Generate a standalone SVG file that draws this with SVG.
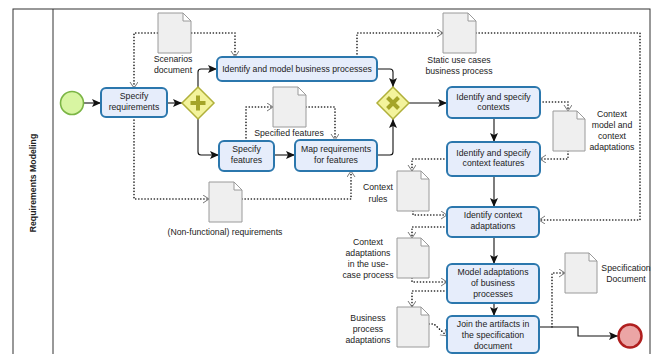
<svg xmlns="http://www.w3.org/2000/svg" width="655" height="354" viewBox="0 0 655 354">
<style>
text{font-family:"Liberation Sans",Arial,sans-serif;font-size:8.7px;fill:#222;text-anchor:middle}
.task{fill:#e6edfb;stroke:#2b77ad;stroke-width:2}
.doc{fill:#efefef;stroke:#9a9a9a;stroke-width:1}
.seq{fill:none;stroke:#111;stroke-width:1.1}
.assoc{fill:none;stroke:#1a1a1a;stroke-width:1.6;stroke-dasharray:0.1 3;stroke-linecap:round}
.gw{fill:#f3f39c;stroke:#b0b03a;stroke-width:1.5}
.mark{fill:none;stroke:#a4a428;stroke-width:4}
</style>
<defs>
<marker id="arr" markerUnits="userSpaceOnUse" markerWidth="10" markerHeight="10" refX="9" refY="4" orient="auto">
<path d="M0,0 L9,4 L0,8 L2,4 z" fill="#111"/>
</marker>
<marker id="oarr" markerUnits="userSpaceOnUse" markerWidth="10" markerHeight="10" refX="6" refY="4" orient="auto">
<path d="M0,0 L6,4 L0,8" fill="none" stroke="#777" stroke-width="1"/>
</marker>
</defs>

<g id="pool">
<rect x="13" y="9" width="637" height="360" fill="#fff" stroke="#333" stroke-width="1"/>
<line x1="53" y1="9" x2="53" y2="354" stroke="#333" stroke-width="1"/>
<text x="0" y="0" transform="translate(36,183) rotate(-90)" style="font-weight:bold">Requirements Modeling</text>
</g>

<g id="connectors">
<path class="seq" d="M83 103 H101" marker-end="url(#arr)"/>
<path class="seq" d="M167 103 H182" marker-end="url(#arr)"/>
<path class="seq" d="M198 87 V72 Q198 69 201 69 H217" marker-end="url(#arr)"/>
<path class="seq" d="M198 119 V152 Q198 155 201 155 H219" marker-end="url(#arr)"/>
<path class="seq" d="M274 155 H295" marker-end="url(#arr)"/>
<path class="seq" d="M377 69 H390 Q393 69 393 72 V87" marker-end="url(#arr)"/>
<path class="seq" d="M377 155 H390 Q393 155 393 152 V119" marker-end="url(#arr)"/>
<path class="seq" d="M409 103 H447" marker-end="url(#arr)"/>
<path class="seq" d="M494 118 V142" marker-end="url(#arr)"/>
<path class="seq" d="M494 176 V207" marker-end="url(#arr)"/>
<path class="seq" d="M494 237 V264" marker-end="url(#arr)"/>
<path class="seq" d="M494 303 V316" marker-end="url(#arr)"/>
<path class="seq" d="M539 327 H578 V336 H618" marker-end="url(#arr)"/>

<path class="assoc" d="M173 33 H134 V88" marker-end="url(#oarr)"/>
<path class="assoc" d="M173 33 H235 V57" marker-end="url(#oarr)"/>
<path class="assoc" d="M134 117 V199 H209" marker-end="url(#oarr)"/>
<path class="assoc" d="M242 199 H351 V171" marker-end="url(#oarr)"/>
<path class="assoc" d="M246 141 V107 H273" marker-end="url(#oarr)"/>
<path class="assoc" d="M306 107 H335 V140" marker-end="url(#oarr)"/>
<path class="assoc" d="M357 57 V33 H443" marker-end="url(#oarr)"/>
<path class="assoc" d="M476 33 H640 V220 H539" marker-end="url(#oarr)"/>
<path class="assoc" d="M540 102 H568 V111" marker-end="url(#oarr)"/>
<path class="assoc" d="M568 151 V159 H540" marker-end="url(#oarr)"/>
<path class="assoc" d="M447 159 H412 V171" marker-end="url(#oarr)"/>
<path class="assoc" d="M413 211 V215 H447" marker-end="url(#oarr)"/>
<path class="assoc" d="M447 227 H412 V238" marker-end="url(#oarr)"/>
<path class="assoc" d="M412 278 V282 H447" marker-end="url(#oarr)"/>
<path class="assoc" d="M447 291 H412 V307" marker-end="url(#oarr)"/>
<path class="assoc" d="M429 324 H434 L447 336" marker-end="url(#oarr)"/>
<path class="assoc" d="M552 327 V273 H565" marker-end="url(#oarr)"/>
</g>

<g id="start">
<circle cx="72" cy="103" r="11.5" fill="#d8f5a2" stroke="#7bb545" stroke-width="1.6"/>
</g>

<g id="task-specify-requirements">
<rect class="task" x="101" y="88" width="66" height="29" rx="5"/>
<text x="134" y="99">Specify</text>
<text x="134" y="110">requirements</text>
</g>

<g id="gateway-parallel">
<path class="gw" d="M198 87 L214 103 L198 119 L182 103 z"/>
<path class="mark" d="M198 95.5 V110.5 M190.5 103 H205.5"/>
</g>

<g id="doc-scenarios">
<path class="doc" d="M158 13 H183 L191 21 V53 H158 z M183 13 V21 H191"/>
<text x="173" y="62">Scenarios</text>
<text x="173" y="73">document</text>
</g>

<g id="task-identify-model">
<rect class="task" x="217" y="57" width="160" height="24" rx="5"/>
<text x="297" y="72">Identify and model business processes</text>
</g>

<g id="task-specify-features">
<rect class="task" x="219" y="141" width="55" height="30" rx="5"/>
<text x="246.5" y="152">Specify</text>
<text x="246.5" y="163">features</text>
</g>

<g id="doc-specified-features">
<path class="doc" d="M273 87 H298 L306 95 V127 H273 z M298 87 V95 H306"/>
<text x="289" y="136">Specified features</text>
</g>

<g id="task-map-requirements">
<rect class="task" x="295" y="140" width="82" height="31" rx="5"/>
<text x="336" y="152">Map requirements</text>
<text x="336" y="163">for features</text>
</g>

<g id="doc-nonfunctional">
<path class="doc" d="M209 182 H234 L242 190 V222 H209 z M234 182 V190 H242"/>
<text x="225" y="235">(Non-functional) requirements</text>
</g>

<g id="gateway-exclusive">
<path class="gw" d="M393 87 L409 103 L393 119 L377 103 z"/>
<path class="mark" d="M387.5 97.5 L398.5 108.5 M398.5 97.5 L387.5 108.5"/>
</g>

<g id="doc-static-use-cases">
<path class="doc" d="M443 13 H468 L476 21 V53 H443 z M468 13 V21 H476"/>
<text x="459" y="63">Static use cases</text>
<text x="459" y="74">business process</text>
</g>

<g id="task-identify-contexts">
<rect class="task" x="447" y="87" width="93" height="31" rx="5"/>
<text x="493.5" y="100">Identify and specify</text>
<text x="493.5" y="110">contexts</text>
</g>

<g id="doc-context-model">
<path class="doc" d="M553 111 H577 L585 119 V151 H553 z M577 111 V119 H585"/>
<text x="612" y="117">Context</text>
<text x="612" y="128">model and</text>
<text x="612" y="139">context</text>
<text x="612" y="150">adaptations</text>
</g>

<g id="task-context-features">
<rect class="task" x="447" y="142" width="93" height="34" rx="5"/>
<text x="493.5" y="156">Identify and specify</text>
<text x="493.5" y="166">context features</text>
</g>

<g id="doc-context-rules">
<path class="doc" d="M397 171 H421 L429 179 V211 H397 z M421 171 V179 H429"/>
<text x="378" y="190">Context</text>
<text x="378" y="202">rules</text>
</g>

<g id="task-context-adaptations">
<rect class="task" x="447" y="207" width="92" height="30" rx="5"/>
<text x="493" y="218">Identify context</text>
<text x="493" y="229">adaptations</text>
</g>

<g id="doc-context-adaptations-use-case">
<path class="doc" d="M397 238 H421 L429 246 V278 H397 z M421 238 V246 H429"/>
<text x="368" y="245">Context</text>
<text x="368" y="256">adaptations</text>
<text x="368" y="267">in the use-</text>
<text x="368" y="278">case process</text>
</g>

<g id="task-model-adaptations">
<rect class="task" x="447" y="264" width="92" height="39" rx="5"/>
<text x="493" y="275">Model adaptations</text>
<text x="493" y="286">of business</text>
<text x="493" y="297">processes</text>
</g>

<g id="doc-business-process-adaptations">
<path class="doc" d="M397 307 H421 L429 315 V347 H397 z M421 307 V315 H429"/>
<text x="368" y="321">Business</text>
<text x="368" y="332">process</text>
<text x="368" y="343">adaptations</text>
</g>

<g id="task-join-artifacts">
<rect class="task" x="447" y="316" width="92" height="37" rx="5"/>
<text x="493" y="327">Join the artifacts in</text>
<text x="493" y="338">the specification</text>
<text x="493" y="349">document</text>
</g>

<g id="doc-specification">
<path class="doc" d="M565 253 H589 L597 261 V293 H565 z M589 253 V261 H597"/>
<text x="626" y="271">Specification</text>
<text x="626" y="282">Document</text>
</g>

<g id="end">
<circle cx="630" cy="336" r="11.5" fill="#eba5a5" stroke="#b01f1f" stroke-width="2.5"/>
</g>
</svg>
